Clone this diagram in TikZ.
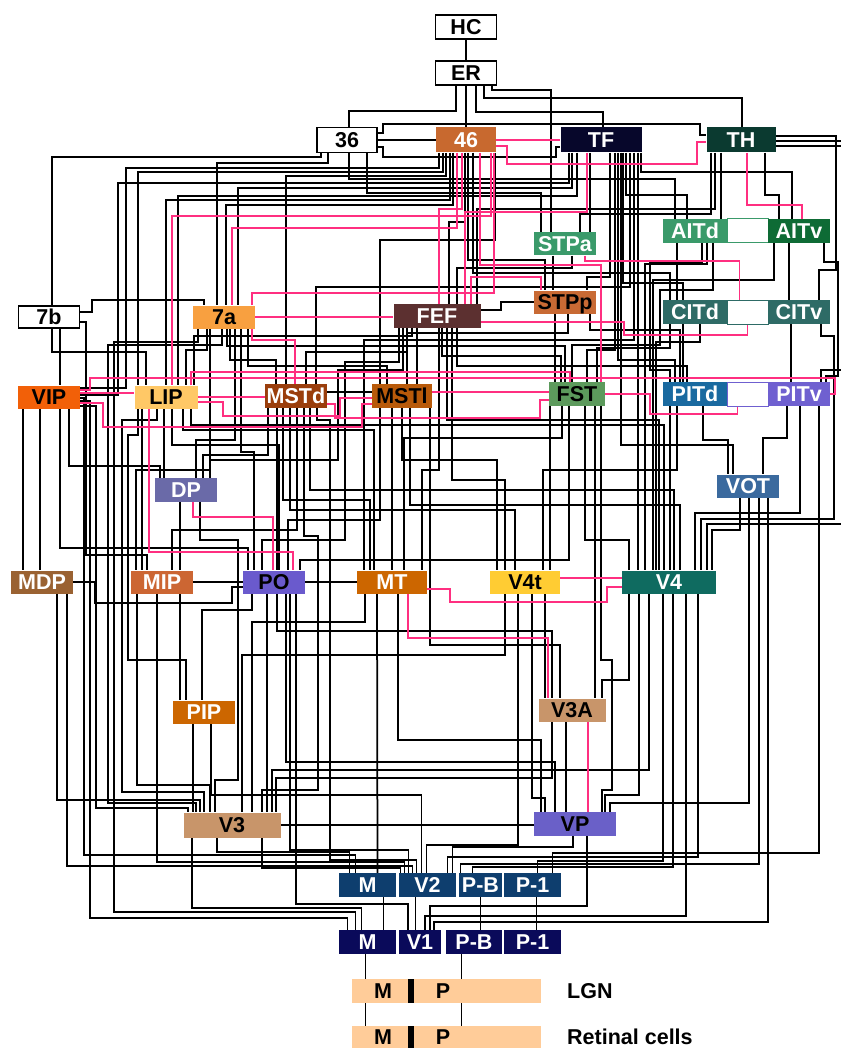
\documentclass[tikz,border=0pt]{standalone}
\usepackage{fontspec}
\setmainfont{Liberation Sans}
\usetikzlibrary{calc}
\pgfdeclarelayer{bg}\pgfdeclarelayer{mid}
\pgfsetlayers{bg,mid,main}
\definecolor{cfour}{HTML}{C8692F}
\definecolor{cTF}{HTML}{07072B}
\definecolor{cTH}{HTML}{0B3A30}
\definecolor{cSTPa}{HTML}{3A9A6A}
\definecolor{cAITv}{HTML}{0E6B35}
\definecolor{cSTPp}{HTML}{C86A34}
\definecolor{cCIT}{HTML}{2E6B66}
\definecolor{cFST}{HTML}{5C9A5C}
\definecolor{cPITd}{HTML}{1A6AA0}
\definecolor{cPITv}{HTML}{6F60D0}
\definecolor{csevena}{HTML}{F8A040}
\definecolor{cFEF}{HTML}{5C3030}
\definecolor{cVIP}{HTML}{F26008}
\definecolor{cLIP}{HTML}{FFC866}
\definecolor{cMSTd}{HTML}{9A3E0C}
\definecolor{cMSTl}{HTML}{B85A0A}
\definecolor{cDP}{HTML}{6A6AA8}
\definecolor{cVOT}{HTML}{3B6A9E}
\definecolor{cMDP}{HTML}{9A6232}
\definecolor{cMIP}{HTML}{CC6633}
\definecolor{cPO}{HTML}{6A5ACD}
\definecolor{cMT}{HTML}{CC6600}
\definecolor{cVft}{HTML}{FFCC33}
\definecolor{cVf}{HTML}{0F6B60}
\definecolor{cVtA}{HTML}{C8956A}
\definecolor{cVP}{HTML}{6A60C8}
\definecolor{cVtwo}{HTML}{0E3E6E}
\definecolor{cVone}{HTML}{0A0A5A}
\definecolor{cLGN}{HTML}{FFCC99}
\definecolor{pinkc}{HTML}{FF2F80}
\tikzset{
  box/.style={inner sep=0pt, minimum height=24, text height=15.5pt, text depth=0pt,
    font=\fontsize{21.5}{22}\selectfont\bfseries, text=white},
  wb/.style={fill=white, draw=black, line width=1.3pt, text=black},
  lab/.style={inner sep=0pt, text height=15.5pt, text depth=0pt, font=\fontsize{21.5}{22}\selectfont\bfseries},
  ln/.style={line width=1.75pt, draw=black},
  thin/.style={line width=1pt, draw=black},
  pk/.style={line width=1.75pt, draw=pinkc}
}
\newcommand\vv[4][ln]{\draw[#1] let \p1=(#2) in (\p1) -- (\x1,-#3pt) -| (#4);}
\begin{document}
\begin{tikzpicture}[x=1pt,y=-1pt]
\useasboundingbox (0,0) rectangle (840,1048);
% ---------- nodes ----------
\node[box,wb,minimum width=61] (HC) at (466,27) {HC};
\node[box,wb,minimum width=61] (ER) at (466,73) {ER};
\node[box,wb,minimum width=60,minimum height=25] (a36) at (347,140) {36};
\node[box,fill=cfour,minimum width=60,minimum height=25] (a46) at (466,140) {46};
\node[box,fill=cTF,minimum width=81,minimum height=25] (TF) at (601,140) {TF};
\node[box,fill=cTH,minimum width=69,minimum height=25] (TH) at (741,140) {TH};
\node[box,fill=cSTPa,minimum width=62,minimum height=23] (STPa) at (565,244) {STPa};
\node[box,fill=cSTPa,minimum width=64] (AITd) at (695,231) {AITd};
\node[box,fill=white,draw=cSTPa,line width=1pt,minimum width=41] (AITw) at (747.5,231) {};
\node[box,fill=cAITv,minimum width=62] (AITv) at (799,231) {AITv};
\node[box,fill=cSTPp,text=black,minimum width=62,minimum height=23] (STPp) at (565,302) {STPp};
\node[box,fill=cCIT,minimum width=64] (CITd) at (695,312) {CITd};
\node[box,fill=white,draw=cCIT,line width=1pt,minimum width=41] (CITw) at (747.5,312) {};
\node[box,fill=cCIT,minimum width=62] (CITv) at (799,312) {CITv};
\node[box,wb,minimum width=61,minimum height=22] (b7) at (49,317) {7b};
\node[box,fill=csevena,text=black,minimum width=62,minimum height=23] (a7) at (224,317) {7a};
\node[box,fill=cFEF,minimum width=87] (FEF) at (437,316) {FEF};
\node[box,fill=cVIP,text=black,minimum width=62,minimum height=23] (VIP) at (49,397) {VIP};
\node[box,fill=cLIP,text=black,minimum width=63,minimum height=23] (LIP) at (166,397) {LIP};
\node[box,fill=cMSTd,minimum width=62] (MSTd) at (296,396) {MSTd};
\node[box,fill=cMSTl,text=black,minimum width=60] (MSTl) at (402,396) {MSTl};
\node[box,fill=cFST,text=black,minimum width=56] (FST) at (577,394) {FST};
\node[box,fill=cPITd,minimum width=64] (PITd) at (695,394) {PITd};
\node[box,fill=white,draw=cPITv,line width=1pt,minimum width=41] (PITw) at (747.5,394) {};
\node[box,fill=cPITv,minimum width=62] (PITv) at (799,394) {PITv};
\node[box,fill=cDP,minimum width=62] (DP) at (186,490) {DP};
\node[box,fill=cVOT,minimum width=62,minimum height=23] (VOT) at (748,486) {VOT};
\node[box,fill=cMDP,minimum width=62,minimum height=23] (MDP) at (42,582) {MDP};
\node[box,fill=cMIP,minimum width=62,minimum height=23] (MIP) at (162,582) {MIP};
\node[box,fill=cPO,text=black,minimum width=62,minimum height=23] (PO) at (274,582) {PO};
\node[box,fill=cMT,minimum width=70,minimum height=23] (MT) at (392,582) {MT};
\node[box,fill=cVft,text=black,minimum width=70,minimum height=23] (V4t) at (525,582) {V4t};
\node[box,fill=cVf,minimum width=94,minimum height=23] (V4) at (669,582) {V4};
\node[box,fill=cMT,minimum width=62,minimum height=23] (PIP) at (204,712) {PIP};
\node[box,fill=cVtA,text=black,minimum width=67,minimum height=23] (V3A) at (572,710) {V3A};
\node[box,fill=cVtA,text=black,minimum width=97,minimum height=25] (V3) at (232,825) {V3};
\node[box,fill=cVP,text=black,minimum width=82] (VP) at (575,824) {VP};
\node[box,fill=cVtwo,minimum width=57] (V2M) at (367.5,885) {M};
\node[box,fill=cVtwo,minimum width=57] (V2) at (427.5,885) {V2};
\node[box,fill=cVtwo,minimum width=43] (V2PB) at (480.5,885) {P-B};
\node[box,fill=cVtwo,minimum width=57] (V2P1) at (532.5,885) {P-1};
\node[box,fill=cVone,minimum width=57] (V1M) at (367.5,942) {M};
\node[box,fill=cVone,minimum width=42] (V1) at (420,942) {V1};
\node[box,fill=cVone,minimum width=56] (V1PB) at (474,942) {P-B};
\node[box,fill=cVone,minimum width=57] (V1P1) at (532.5,942) {P-1};
\node[inner sep=0pt,fill=cLGN,minimum width=189,minimum height=24] (LGN) at (446.5,991) {};
\node[inner sep=0pt,fill=cLGN,minimum width=189,minimum height=22] (RET) at (446.5,1037) {};
\fill[black] (408,979) rectangle (414,1003);
\fill[black] (408,1026) rectangle (414,1048);
\node[lab] (LGNm) at (383,991) {M};
\node[lab] (LGNp) at (443,991) {P};
\node[lab] (RETm) at (383,1037) {M};
\node[lab] (RETp) at (443,1037) {P};
\node[lab,anchor=west] (LGNl) at (567,991) {LGN};
\node[lab,anchor=west] (RETl) at (567,1037) {Retinal cells};
% ---------- black connectors ----------
\begin{pgfonlayer}{bg}
\draw[ln] (HC) -- (ER);
\vv{[xshift=-10]ER.south}{111}{[xshift=2]a36.north}
\draw[ln] (ER) -- (a46);
\vv{[xshift=10]ER.south}{112}{[xshift=2]TF.north}
\vv{[xshift=18]ER.south}{98}{[xshift=1]TH.north}
\vv{[xshift=26]ER.south}{90}{[xshift=-14]STPa.north}
\draw[ln] (a36) -- (a46);
\draw[ln] ([yshift=7]a36.east) -- ++(5,0) |- (700,124) |- ([yshift=5]TH.west);
\draw[ln] ([yshift=-7]a36.east) -- ++(5,0) |- (556,157) |- ([yshift=-7]TF.west);
\vv{[xshift=40]TF.south}{172}{[xshift=-7]AITv.north}
\vv{[xshift=-26]a36.south}{157}{[xshift=3]b7.north}
\vv{[xshift=-19]a36.south}{163}{[xshift=-7]a7.north}
\vv{[xshift=2]a36.south}{179}{[xshift=-20]AITd.north}
\vv{[xshift=20]a36.south}{193}{[xshift=-24]STPa.north}
\vv{[xshift=-23]a46.south}{172}{[xshift=-28]LIP.north}
\vv{[xshift=-20]a46.south}{176}{[xshift=-10]MSTd.north}
\vv{[xshift=-16]a46.south}{200}{LIP.north}
\vv{[xshift=-13]a46.south}{205}{[xshift=2]a7.north}
\vv{[xshift=-1]a46.south}{222}{[xshift=12]FEF.north}
\vv{[xshift=2]a46.south}{260}{[xshift=-20]STPp.north}
\vv{[xshift=7]a46.south}{273}{[xshift=-25]CITd.north}
\vv{[xshift=29]a46.south}{240}{[xshift=-22]MSTl.north}
\draw[ln] ([xshift=-27]a46.south) |- (126,168) |- ([yshift=9]VIP.east);
\draw[ln] ([xshift=-32]TF.south) |- (118,183) |- ([yshift=2]VIP.east);
\vv{[xshift=-29]TF.south}{188}{[xshift=14]a7.north}
\vv{[xshift=-24]TF.south}{196}{[xshift=12]LIP.north}
\vv{[xshift=-11]TF.south}{200}{[xshift=25]STPa.north}
\vv{[xshift=9]TF.south}{277}{[xshift=22]STPp.north}
\vv{[xshift=14]TF.south}{350}{[xshift=10]FST.north}
\vv{[xshift=17]TF.south}{360}{[xshift=-20]PITd.north}
\vv{[xshift=22]TF.south}{283}{[xshift=-12]CITd.north}
\vv{[xshift=25]TF.south}{195}{[xshift=-8]AITd.north}
\vv{[xshift=29]TF.south}{287}{[xshift=20]MSTd.north}
\vv{[xshift=33]TF.south}{340}{[xshift=-28]MT.north}
\vv{[xshift=37]TF.south}{450}{[xshift=-31]V4.north}
\vv{[xshift=20]TF.south}{445}{[xshift=-15]VOT.north}
\vv{[xshift=-20]TH.south}{200}{[xshift=26]AITd.north}
\vv{[xshift=24]TH.south}{195}{[xshift=-20]AITv.north}
\draw[ln] ([yshift=4]TH.east) -| (836,270) -| ([xshift=20]CITv.north);
\draw[ln] ([yshift=-6]TH.east) -| (850,524) -| ([xshift=38]V4.north);
\draw[ln] ([yshift=-1]TH.east) -| (845,370) -| ([xshift=22]PITv.north);
\vv{[xshift=-30]TH.south}{214}{[xshift=15]STPa.north}
\vv{[xshift=-26]TH.south}{209}{[xshift=40]FEF.north}
\draw[ln] ([xshift=-12]STPa.south) -- ([xshift=-12]STPp.north);
\vv{[xshift=7]STPa.south}{268}{[xshift=20]FEF.north}
\draw[ln] ([xshift=-18]AITd.south) -- ([xshift=-18]CITd.north);
\draw[ln] ([xshift=7]AITd.south) |- (650,262) |- (670,370) -- ([xshift=-25]PITd.north);
\vv{[xshift=12]AITd.south}{264}{[xshift=-24]V4.north}
\draw[ln] ([xshift=18]AITd.south) |- (660,290) |- (572,345) -- ([xshift=-5]FST.north);
\draw[ln] ([xshift=-10]AITv.south) -- ([xshift=-10]CITv.north);
\draw[ln] ([xshift=25]AITv.south) |- (838,262) |- (826,376) -- ([xshift=27]PITv.north);
\vv{[xshift=-25]AITv.south}{280}{[xshift=-16]V4.north}
\draw[ln] ([xshift=-12]CITd.south) -- ([xshift=-12]PITd.north);
\vv{[xshift=5]CITd.south}{342}{[xshift=-13]V4.north}
\draw[ln] ([xshift=-8]CITv.south) -- ([xshift=-8]PITv.north);
\draw[ln] ([xshift=22]CITv.south) |- (834,336) |- (701,519) -- ([xshift=32]V4.north);
\vv{[xshift=-25]CITd.south}{348}{[xshift=20]FST.north}
\draw[ln] ([xshift=-10]STPp.south) -- ([xshift=-22]FST.north);
\vv{[xshift=3]STPp.south}{333}{[xshift=5]MSTl.north}
\vv{[xshift=25]STPp.south}{330}{[xshift=-15]PITd.north}
\draw[ln] ([yshift=6]FEF.east) -- ++(20,0) |- (STPp.west);
\draw[ln] ([xshift=11]b7.south) -- ([xshift=11]VIP.north);
\vv{[xshift=3]b7.south}{352}{[xshift=-20]LIP.north}
\draw[ln] ([yshift=5]b7.east) -| (92,300) -| ([xshift=-20]a7.north);
\draw[ln] ([yshift=-5]b7.east) -| (86,555) -| ([xshift=-15]MIP.north);
\vv{[xshift=-17]a7.south}{350}{[xshift=20]LIP.north}
\draw[ln] ([xshift=-2]a7.south) |- (108,345) |- (196,803) -- ([xshift=-36]V3.north);
\vv{[xshift=6]a7.south}{360}{[xshift=-20]MSTd.north}
\vv{[xshift=11]a7.south}{440}{[xshift=10]DP.north}
\vv{[xshift=17]a7.south}{452}{[xshift=-20]PO.north}
\vv{[xshift=24]a7.south}{366}{[xshift=-15]MSTl.north}
\vv{[xshift=-14]a7.south}{470}{[xshift=-26]MIP.north}
\vv{[xshift=3]a7.south}{346}{[xshift=-12]FST.north}
\draw[ln] ([xshift=-26]a7.south) |- (114,342) |- (355.5,912) -- ([xshift=-12]V1M.north);
\vv{[xshift=-30]FEF.south}{352}{[xshift=10]MSTd.north}
\vv{[xshift=-25]FEF.south}{336}{[xshift=28]LIP.north}
\draw[ln] ([xshift=-20]FEF.south) -- ([xshift=15]MSTl.north);
\vv{[xshift=5]FEF.south}{356}{[xshift=-16]FST.north}
\vv{[xshift=10]FEF.south}{420}{[xshift=-10]V4.north}
\vv{[xshift=2]FEF.south}{470}{[xshift=30]MT.north}
\vv{[xshift=15]FEF.south}{480}{[xshift=-20]V4t.north}
\draw[ln] ([xshift=-38]FEF.south) |- (345,362) |- (262,540) -- ([xshift=-12]PO.north);
\draw[ln] ([xshift=-34]FEF.south) |- (338,370) |- (210,460) -- ([xshift=24]DP.north);
\vv{[xshift=20]FEF.south}{366}{[xshift=-8]PITd.north}
\draw[ln] ([xshift=-26]VIP.south) -- ([xshift=-19]MDP.north);
\draw[ln] ([xshift=-9]VIP.south) -- ([xshift=-2]MDP.north);
\vv{[xshift=11]VIP.south}{548}{[xshift=-26]PO.north}
\vv{[xshift=20]VIP.south}{466}{[xshift=-26]DP.north}
\draw[ln] ([yshift=-1]VIP.east) -| (84,855) -| ([xshift=-12]V2M.north);
\draw[ln] ([yshift=-4]VIP.east) -| (90,918) -| ([xshift=-20]V1M.north);
\draw[ln] ([yshift=-9]VIP.east) -| (96,808) -| ([xshift=-44]V3.north);
\draw[ln] ([xshift=-2]LIP.south) -- ([xshift=-22]DP.north);
\draw[ln] ([xshift=-24]LIP.south) -- ([xshift=-20]MIP.north);
\vv{[xshift=6]LIP.south}{445}{[xshift=5]PO.north}
\vv{[xshift=17]LIP.south}{430}{[xshift=-18]MT.north}
\draw[ln] ([xshift=-9]LIP.south) |- (122,420) |- (204,792) -- ([xshift=-28]V3.north);
\vv{[xshift=25]LIP.south}{425}{[xshift=-5]V4.north}
\draw[ln] ([xshift=-28]LIP.south) |- (128,435) |- (186,660) -- ([xshift=-18]PIP.north);
\vv{[xshift=-28]MSTd.south}{455}{[xshift=17]DP.north}
\draw[ln] ([xshift=-19]MSTd.south) -- ([xshift=3]PO.north);
\vv{[xshift=-13]MSTd.south}{500}{[xshift=-22]MT.north}
\vv{[xshift=-6]MSTd.south}{510}{[xshift=-10]V4t.north}
\vv{[xshift=1]MSTd.south}{530}{[xshift=10]MIP.north}
\draw[ln] ([xshift=8]MSTd.south) |- (318,536) |- (262,790) -- ([xshift=30]V3.north);
\vv{[xshift=14]MSTd.south}{490}{[xshift=5]V4.north}
\draw[ln] ([xshift=21]MSTd.south) |- (330,420) |- (416.5,860) -- ([xshift=-11]V2.north);
\draw[ln] ([yshift=4]MSTd.east) -- ([yshift=4]MSTd.east -| MSTl.west);
\draw[ln] ([xshift=-10]MSTl.south) -- (MT.north);
\vv{MSTl.south}{460}{[xshift=-28]V4t.north}
\vv{[xshift=8]MSTl.south}{505}{[xshift=11]V4.north}
\vv{[xshift=-22]MSTl.south}{520}{[xshift=14]PO.north}
\vv{[xshift=28]MSTl.south}{645}{[xshift=-12]V3A.north}
\draw[ln] ([xshift=-27]FST.south) -- ([xshift=25]V4t.north);
\vv{[xshift=8]FST.south}{540}{[xshift=-40]V4.north}
\vv{[xshift=-15]FST.south}{438}{[xshift=12]MT.north}
\vv{[xshift=18]FST.south}{650}{[xshift=23]V3A.north}
\vv{[xshift=-8]FST.south}{560}{[xshift=26]PO.north}
\draw[ln] ([xshift=24]FST.south) |- (612,660) |- (602,790) -- ([xshift=27]VP.north);
\vv{[xshift=8]PITd.south}{440}{[xshift=-20]VOT.north}
\vv{[xshift=-12]PITv.south}{438}{[xshift=15]VOT.north}
\draw[ln] ([xshift=-25]PITd.south) -- ([xshift=1]V4.north);
\vv{[xshift=-18]PITd.south}{470}{[xshift=18]V4t.north}
\vv{[xshift=1]PITv.south}{513}{[xshift=26]V4.north}
\vv{[xshift=20]PITv.south}{853}{[xshift=20]V2P1.north}
\vv{[xshift=-8]VOT.south}{530}{[xshift=43]V4.north}
\vv{[xshift=1]VOT.south}{803}{[xshift=35]VP.north}
\vv{[xshift=11]VOT.south}{864}{[xshift=-20]V2PB.north}
\vv{[xshift=20]VOT.south}{922}{[xshift=14]V1.north}
\draw[ln] ([xshift=-6]DP.south) -- ([xshift=18]MIP.north);
\draw[ln] ([xshift=14]DP.south) |- (238,540) |- (215,780) -- ([xshift=-17]V3.north);
\draw[ln] (MDP.east) -| (95,603) -| (232,587) -- ([yshift=-5]PO.west);
\vv{[xshift=25]MDP.south}{866}{[xshift=-15]V2.north}
\vv{[xshift=15]MDP.south}{800}{[xshift=-32]V3.north}
\draw[ln] (MIP.east) -- (MIP.east -| PO.west);
\draw[ln] ([xshift=18]MIP.south) -- ([xshift=-24]PIP.north);
\vv{[xshift=-25]MIP.south}{785}{[xshift=-22]V3.north}
\vv{[xshift=-5]MIP.south}{862}{[xshift=-23]V2.north}
\vv{[xshift=-22]PO.south}{610}{[xshift=-2]PIP.north}
\draw[ln] ([xshift=-7]PO.south) -- ([xshift=35]V3.north);
\draw[ln] (PO.east) -- (PO.east -| MT.west);
\vv{[xshift=3]PO.south}{631}{[xshift=-20]V3A.north}
\vv{[xshift=12]PO.south}{762}{[xshift=-20]VP.north}
\vv{[xshift=16]PO.south}{850}{[xshift=-19]V2.north}
\vv{[xshift=22]PO.south}{904}{[xshift=-12]V1.north}
\vv{[xshift=-27]MT.south}{622}{[xshift=20]V3.north}
\draw[ln] ([xshift=-15]MT.south) -- ([xshift=10]V2M.north);
\vv{[xshift=6]MT.south}{740}{[xshift=-34]VP.north}
\vv{[xshift=-6]V4.south}{861}{[xshift=5]V2P1.north}
\vv{[xshift=4]V4.south}{867}{[xshift=-8]V2PB.north}
\vv{[xshift=17]V4.south}{916}{[xshift=5]V1.north}
\vv{[xshift=-30]V4.south}{795}{[xshift=30]VP.north}
\vv{[xshift=-40]V4.south}{680}{[xshift=30]V3A.north}
\vv{[xshift=-20]V4.south}{770}{[xshift=40]V3.north}
\vv{[xshift=29]V4.south}{857}{[xshift=20]V2.north}
\draw[ln] ([xshift=20]V4t.south) -- ([xshift=-27]V3A.north);
\vv{[xshift=-7]V4t.south}{845}{[xshift=-1]V2.north}
\vv{[xshift=7]V4t.south}{798}{[xshift=-30]VP.north}
\vv{[xshift=-20]V4t.south}{655}{[xshift=10]V3.north}
\draw[ln] ([xshift=-11]PIP.south) -- ([xshift=-39]V3.north);
\vv{[xshift=7]PIP.south}{795}{[xshift=-6]V2.north}
\vv{[xshift=-20]V3A.south}{778}{[xshift=44]V3.north}
\draw[ln] ([xshift=-6]V3A.south) -- ([xshift=-9]VP.north);
\vv{[xshift=-15]V3.south}{852}{[xshift=-18]V2M.north}
\vv{[xshift=-40]V3.south}{908}{[xshift=-6]V1M.north}
\draw[ln] (V3.east) -- (V3.east -| VP.west);
\vv{[xshift=30]V3.south}{868}{[xshift=-27]V2.north}
\vv{[xshift=-2]VP.south}{847}{[xshift=25]V2.north}
\vv{[xshift=12]VP.south}{906}{[xshift=10]V1.north}
\draw[ln] ([xshift=16]V2M.south) -- ([xshift=16]V1M.north);
\draw[ln] (V2PB.south) -- ([xshift=6.5]V1PB.north);
\draw[ln] ([xshift=4]V2P1.south) -- ([xshift=4]V1P1.north);
\draw[ln] ([xshift=-12]V2.south) -- ([xshift=-4.5]V1.north);
\draw[thin] ([xshift=-2]V1M.south) -- ([xshift=-81]LGN.north);
\draw[thin] ([xshift=-81]LGN.south) -- ([xshift=-81]RET.north);
\draw[thin] ([xshift=-13]V1PB.south) -- ([xshift=14.5]LGN.north);
\draw[thin] ([xshift=14.5]LGN.south) -- ([xshift=14.5]RET.north);
\end{pgfonlayer}
% ---------- pink connectors ----------
\begin{pgfonlayer}{mid}
\draw[pk] (a46) -- (TF);
\draw[pk] ([yshift=-6]a46.east) -| (507,164) -| (697,142) -- ([yshift=-2]TH.west);
\vv[pk]{[xshift=-4]a46.south}{209}{[xshift=2]FEF.north}
\vv[pk]{[xshift=-9]a46.south}{228}{[xshift=8]a7.north}
\vv[pk]{[xshift=14]a46.south}{265}{[xshift=24]FST.north}
\vv[pk]{[xshift=25]a46.south}{216}{[xshift=6]LIP.north}
\vv[pk]{[xshift=-14]TF.south}{212}{[xshift=28]FEF.north}
\vv[pk]{[xshift=6]TH.south}{205}{[xshift=3]AITv.north}
\vv[pk]{[xshift=28]a7.north}{293}{[xshift=28]a46.south}
\draw[pk] (a7.east) -- (a7.east -| FEF.west);
\vv[pk]{[xshift=28]a7.south}{340}{[xshift=-1]MSTd.north}
\vv[pk]{[xshift=34]FEF.north}{277}{[xshift=-24]STPp.north}
\draw[pk] ([yshift=-6]FEF.east) -| (624,335) -| (CITw.south);
\vv[pk]{[xshift=20]STPa.south}{261}{[xshift=-8]CITw.north}
\draw[pk] ([yshift=7]VIP.east) -| (90,378) -- (835,378) |- (PITv.east);
\draw[pk] ([yshift=4]VIP.east) -- ([yshift=4]VIP.east -| LIP.west);
\draw[pk] ([yshift=-6]VIP.east) -| (103,427) -| (362,404) -- ([yshift=-8]MSTl.west);
\draw[pk] (LIP.east) -- (LIP.east -| MSTd.west);
\draw[pk] ([yshift=-5]LIP.east) -- ++(25,0) |- (340,416) |- ([yshift=-2]MSTl.west);
\draw[pk] ([xshift=25]LIP.north) |- (570,372) -- ([xshift=-7]FST.north);
\draw[pk] ([yshift=4]MSTl.east) -- ([yshift=4]MSTl.east -| FST.west);
\draw[pk] ([yshift=-8]MSTd.east) -- ++(8,0) |- (540,418) |- ([yshift=-6]FST.west);
\draw[pk] (FST.east) -| (650,414) -| ([xshift=-10]PITw.south);
\vv[pk]{[xshift=7]DP.south}{517}{[xshift=-1]PO.north}
\vv[pk]{[xshift=-17]LIP.south}{552}{[xshift=19]PO.north}
\draw[pk] ([yshift=-7]MT.east) -| (450,602) -| (607,587) -- ([yshift=-5]V4.west);
\draw[pk] ([yshift=4]V4t.east) -- ([yshift=4]V4t.east -| V4.west);
\vv[pk]{[xshift=16]MT.south}{638}{[xshift=-24]V3A.north}
\draw[pk] ([xshift=16]V3A.south) -- ([xshift=13]VP.north);
\end{pgfonlayer}
\end{tikzpicture}
\end{document}
